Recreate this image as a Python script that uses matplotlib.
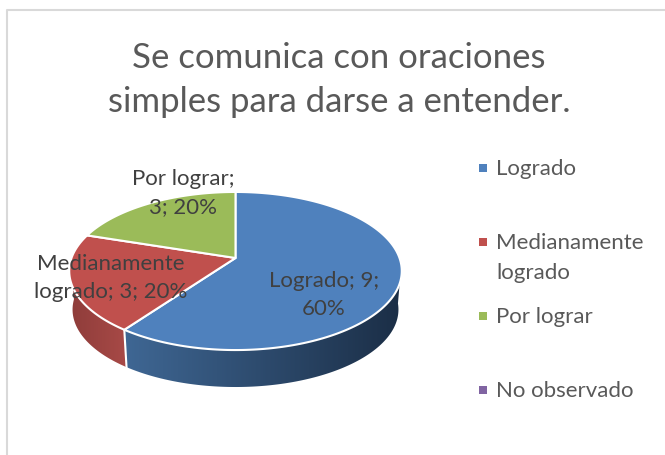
import numpy as np
import matplotlib
matplotlib.use("Agg")
import matplotlib.pyplot as plt
from matplotlib.patches import Polygon
from matplotlib.colors import LinearSegmentedColormap

plt.rcParams['font.family'] = ['Lato', 'DejaVu Sans']

categories = ["Logrado", "Medianamente\nlogrado", "Por lograr", "No observado"]
values = [9, 3, 3, 0]
percents = [60, 20, 20, 0]
colors = ["#4F81BD", "#C0504D", "#9BBB59", "#8064A2"]
title = "Se comunica con oraciones\nsimples para darse a entender."
data_labels = ["Logrado; 9;\n60%", "Medianamente\nlogrado; 3; 20%", "Por lograr;\n3; 20%"]
label_pos = [(324, 295), (111, 278), (183, 193)]
legend_y = [168, 242, 316, 390]

W, H = 665, 455
fig = plt.figure(figsize=(W/100, H/100), dpi=100)
ax = fig.add_axes([0, 0, 1, 1])
ax.set_xlim(0, W); ax.set_ylim(H, 0); ax.axis("off")

# chart frame
ax.plot([7, 7, 665], [455, 10, 10], color="#D9D9D9", lw=1.5, zorder=1)

# perspective projection of the pie
CX, CY, A, B, C = 235.5, 258.0, 76.9, 164.0, 0.1646
def rim(theta):
    u, v = np.sin(theta), np.cos(theta)
    return CX + B*u/(1+C*v), CY - A*v/(1+C*v)
def lower(theta):
    x, y = rim(theta)
    return CX + 0.98*(x-CX), CY + 0.98*(y-CY) + 38.8

fr = np.array(values, float)/sum(values)
edges = np.concatenate([[0], np.cumsum(fr)])*2*np.pi

side_cols = [("#3F6794", "#1B2E46"), ("#A84A47", "#8E3C3A"), None, None]
for i in range(2):
    t0 = max(edges[i], np.deg2rad(95))
    t1 = min(edges[i+1], np.deg2rad(268))
    ts = np.linspace(t0, t1, 200)
    xa, ya = rim(ts); xb, yb = lower(ts)
    poly = Polygon(np.r_[np.c_[xa, ya], np.c_[xb, yb][::-1]], closed=True, fc="none", ec="none", zorder=2)
    ax.add_patch(poly)
    c0, c1 = side_cols[i]
    lo, hi = min(xa.min(), xb.min()), max(xa.max(), xb.max())
    seq = [c0, c1] if i == 0 else [c1, c0]
    cm = LinearSegmentedColormap.from_list("s", seq)
    im = ax.imshow(np.linspace(0, 1, 256)[None, :], cmap=cm, aspect="auto",
                   extent=[lo, hi, 400, 230], zorder=2)
    im.set_clip_path(poly)
ax.set_xlim(0, W); ax.set_ylim(H, 0)

# seam on the side
xa, ya = rim(edges[1]); xb, yb = lower(edges[1])
ax.plot([xa, xb], [ya, yb], color="white", lw=1.5, zorder=3)

# top surface
for i in range(3):
    ts = np.linspace(edges[i], edges[i+1], 200)
    x, y = rim(ts)
    ax.add_patch(Polygon(np.r_[[[CX, CY]], np.c_[x, y]], closed=True, fc=colors[i],
                         ec="white", lw=1.5, joinstyle="round", zorder=4))

ax.text(339, 80, title, ha="center", va="center", fontsize=25, color="#595959",
        linespacing=1.45, zorder=6)

for (px, py), t in zip(label_pos, data_labels):
    ax.text(px, py, t, ha="center", va="center", fontsize=16, color="#404040",
            linespacing=1.55, zorder=6)

for y, c, t in zip(legend_y, colors, categories):
    ax.scatter([483], [y], marker="s", s=33, color=c, lw=0, zorder=6)
    ax.text(496, y-9, t, ha="left", va="top", fontsize=16, color="#595959",
            linespacing=1.6, zorder=6)

fig.savefig("out.png", dpi=100)
